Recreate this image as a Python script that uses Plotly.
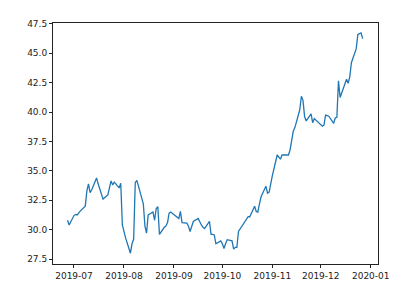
import plotly.graph_objects as go

dates = [
    "2019-06-27", "2019-06-28",
    "2019-07-01", "2019-07-02", "2019-07-03", "2019-07-05",
    "2019-07-08", "2019-07-09", "2019-07-10", "2019-07-11", "2019-07-12",
    "2019-07-15", "2019-07-16", "2019-07-17", "2019-07-18", "2019-07-19",
    "2019-07-22", "2019-07-23", "2019-07-24", "2019-07-25", "2019-07-26",
    "2019-07-29", "2019-07-30", "2019-07-31", "2019-08-01", "2019-08-02",
    "2019-08-05", "2019-08-06", "2019-08-07", "2019-08-08", "2019-08-09",
    "2019-08-12", "2019-08-13", "2019-08-14", "2019-08-15", "2019-08-16",
    "2019-08-19", "2019-08-20", "2019-08-21", "2019-08-22", "2019-08-23",
    "2019-08-26", "2019-08-27", "2019-08-28", "2019-08-29", "2019-08-30",
    "2019-09-03", "2019-09-04", "2019-09-05", "2019-09-06",
    "2019-09-09", "2019-09-10", "2019-09-11", "2019-09-12", "2019-09-13",
    "2019-09-16", "2019-09-17", "2019-09-18", "2019-09-19", "2019-09-20",
    "2019-09-23", "2019-09-24", "2019-09-25", "2019-09-26", "2019-09-27",
    "2019-09-30", "2019-10-01", "2019-10-02", "2019-10-03", "2019-10-04",
    "2019-10-07", "2019-10-08", "2019-10-09", "2019-10-10", "2019-10-11",
    "2019-10-14", "2019-10-15", "2019-10-16", "2019-10-17", "2019-10-18",
    "2019-10-21", "2019-10-22", "2019-10-23", "2019-10-24", "2019-10-25",
    "2019-10-28", "2019-10-29", "2019-10-30", "2019-10-31", "2019-11-01",
    "2019-11-04", "2019-11-05", "2019-11-06", "2019-11-07", "2019-11-08",
    "2019-11-11", "2019-11-12", "2019-11-13", "2019-11-14", "2019-11-15",
    "2019-11-18", "2019-11-19", "2019-11-20", "2019-11-21", "2019-11-22",
    "2019-11-25", "2019-11-26", "2019-11-27", "2019-11-29",
    "2019-12-02", "2019-12-03", "2019-12-04", "2019-12-05", "2019-12-06",
    "2019-12-09", "2019-12-10", "2019-12-11", "2019-12-12", "2019-12-13",
    "2019-12-16", "2019-12-17", "2019-12-18", "2019-12-19", "2019-12-20",
    "2019-12-23", "2019-12-24", "2019-12-26", "2019-12-27",
]

prices = [
    30.8, 30.4,
    31.2, 31.3, 31.25, 31.6,
    32.0, 33.3, 33.9, 33.15, 33.4,
    34.4, 33.9, 33.5, 32.9, 32.6,
    32.95, 33.5, 34.15, 33.8, 34.05,
    33.55, 33.95, 30.4, 29.8, 29.3,
    28.0, 28.8, 29.2, 34.0, 34.2,
    32.7, 32.2, 30.3, 29.7, 31.25,
    31.5, 30.8, 31.8, 31.95, 29.6,
    30.2, 30.3, 30.6, 31.4, 31.5,
    31.0, 30.95, 31.55, 30.6,
    30.55, 30.3, 29.85, 30.4, 30.7,
    30.95, 30.6, 30.4, 30.2, 30.1,
    30.7, 29.6, 29.6, 29.55, 28.8,
    29.05, 28.8, 28.4, 28.8, 29.15,
    29.05, 28.35, 28.5, 28.5, 29.85,
    30.5, 30.75, 30.9, 31.1, 31.1,
    32.0, 31.55, 31.5, 32.2, 32.8,
    33.7, 33.1, 33.2, 33.9, 34.6,
    36.35, 36.2, 36.0, 36.35, 36.35,
    36.35, 36.8, 37.7, 38.4, 38.7,
    40.2, 41.35, 41.0, 39.6, 39.25,
    39.85, 39.1, 39.45, 39.2,
    38.8, 38.9, 39.75, 39.7, 39.65,
    39.05, 39.5, 39.55, 42.66, 41.25,
    42.4, 42.8, 42.45, 43.0, 44.2,
    45.4, 46.6, 46.74, 46.25,
]

x_range = ["2019-06-18", "2020-01-05 12:00"]
y_range = [27.08, 47.58]

fig = go.Figure()
fig.add_trace(go.Scatter(
    x=dates, y=prices, mode="lines",
    line=dict(color="#1f77b4", width=1.3),
    showlegend=False,
))

axis_common = dict(
    showgrid=False, zeroline=False,
    showline=True, mirror=True, linecolor="#222", linewidth=1,
    ticks="outside", ticklen=3, tickwidth=1, tickcolor="#222",
    tickfont=dict(family="DejaVu Sans", size=9, color="#222"),
)

fig.update_xaxes(
    type="date", range=x_range,
    tick0="2019-07-01", dtick="M1", tickformat="%Y-%m",
    **axis_common,
)
fig.update_yaxes(
    range=y_range, tick0=27.5, dtick=2.5, tickformat=".1f",
    **axis_common,
)

fig.update_layout(
    width=420, height=295,
    margin=dict(l=53, r=42, t=23, b=31),
    paper_bgcolor="white", plot_bgcolor="white",
)

fig.write_html("out.html")
